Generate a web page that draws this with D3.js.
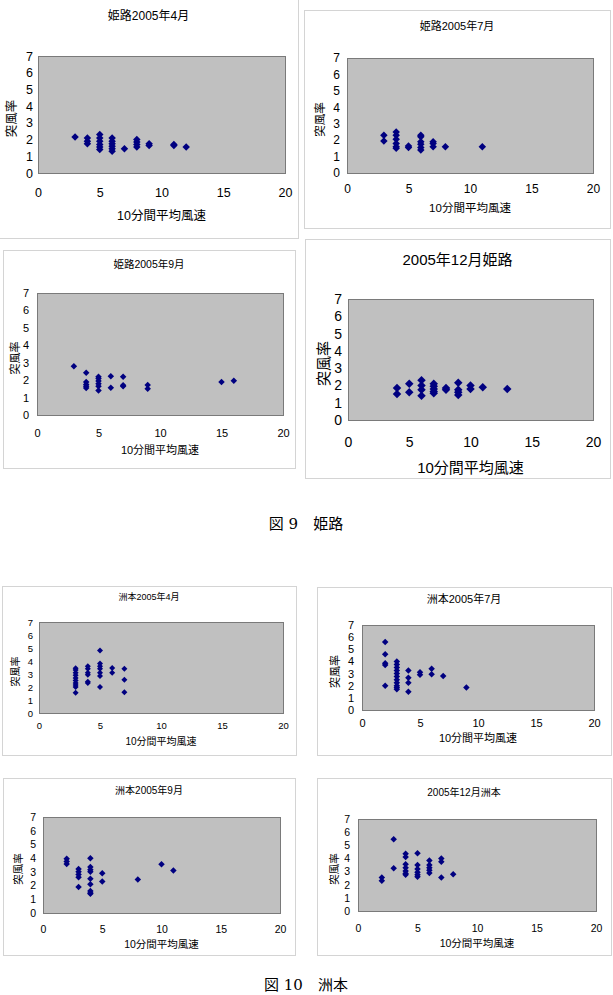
<!DOCTYPE html>
<html>
<head>
<meta charset="utf-8">
<script src="https://cdn.jsdelivr.net/npm/d3@7"></script>
<style>
  body { margin: 0; background: #fff; }
  svg { display: block; }
  text { font-family: "Liberation Sans", "Noto Sans CJK JP", sans-serif; fill: #000; }
</style>
</head>
<body>
<svg id="page" width="613" height="995"></svg>
<script>
// --- data: [10分間平均風速, 突風率] ---
const himeji04 = [[3,2.15],[4,2.1],[4,1.9],[4,1.75],[5,2.3],[5,2.1],[5,1.9],[5,1.7],[5,1.55],[5,1.4],
  [6,2.1],[6,1.9],[6,1.75],[6,1.6],[6,1.45],[6,1.3],[7,1.45],[8,2.0],[8,1.85],[8,1.7],[8,1.55],
  [9,1.75],[9,1.65],[11,1.7],[11,1.65],[12,1.55]];
const himeji07 = [[3,2.3],[3,1.95],[4,2.5],[4,2.3],[4,2.05],[4,1.8],[4,1.6],[4,1.5],[5,1.65],[5,1.55],
  [6,2.3],[6,2.2],[6,1.9],[6,1.75],[6,1.55],[6,1.4],[7,1.9],[7,1.8],[7,1.6],[8,1.6],[11,1.6]];
const himeji09 = [[3,2.8],[4,2.43],[4,1.9],[4,1.75],[4,1.65],[4,1.55],[5,2.2],[5,2.1],[5,1.95],[5,1.8],
  [5,1.65],[5,1.4],[6,2.23],[6,1.56],[7,2.2],[7,1.7],[7,1.65],[9,1.72],[9,1.5],[15,1.9],[16,1.97]];
const himeji12 = [[4,1.85],[4,1.5],[5,2.1],[5,1.6],[6,2.3],[6,2.0],[6,1.75],[6,1.4],[7,2.1],[7,1.95],
  [7,1.8],[7,1.65],[7,1.55],[8,1.85],[8,1.75],[9,2.15],[9,1.75],[9,1.6],[9,1.45],[10,2.0],[10,1.8],
  [11,1.9],[13,1.8]];
const sumoto04 = [[3,3.45],[3,3.3],[3,3.1],[3,2.9],[3,2.7],[3,2.5],[3,2.3],[3,2.15],[3,2.0],[3,1.55],
  [4,3.6],[4,3.4],[4,3.1],[4,2.95],[4,2.4],[4,2.3],[5,4.8],[5,3.8],[5,3.6],[5,3.4],[5,3.1],[5,2.85],
  [5,2.0],[6,3.46],[6,3.1],[7,3.4],[7,2.55],[7,1.6]];
const sumoto07 = [[2,5.6],[2,4.6],[2,3.85],[2,3.7],[2,2.0],[3,4.0],[3,3.75],[3,3.5],[3,3.25],[3,3.0],
  [3,2.75],[3,2.5],[3,2.25],[3,2.0],[3,1.85],[3,1.7],[4,3.25],[4,2.65],[4,2.25],[4,1.5],[5,3.1],
  [5,2.9],[6,3.4],[6,2.95],[7,2.8],[9,1.85]];
const sumoto09 = [[2,3.96],[2,3.75],[2,3.57],[3,3.2],[3,3.0],[3,2.8],[3,2.6],[3,1.9],[4,4.0],[4,3.35],
  [4,3.15],[4,3.0],[4,2.5],[4,2.1],[4,1.6],[4,1.45],[4,1.4],[5,2.9],[5,2.3],[8,2.45],[10,3.55],[11,3.1]];
const sumoto12 = [[2,2.55],[2,2.3],[3,5.45],[3,3.25],[4,4.35],[4,4.1],[4,3.55],[4,3.3],[4,3.05],[4,2.85],
  [4,2.75],[5,4.4],[5,3.5],[5,3.2],[5,2.95],[5,2.75],[5,2.6],[6,3.85],[6,3.5],[6,3.3],[6,3.1],[6,2.9],
  [7,4.0],[7,3.75],[7,2.55],[8,2.8]];

const titles = ["姫路2005年4月", "姫路2005年7月", "姫路2005年9月", "2005年12月姫路",
                "洲本2005年4月", "洲本2005年7月", "洲本2005年9月", "2005年12月洲本"];
const series = [himeji04, himeji07, himeji09, himeji12, sumoto04, sumoto07, sumoto09, sumoto12];
const xTicks = [0, 5, 10, 15, 20];
const yTicks = [0, 1, 2, 3, 4, 5, 6, 7];
const xLabel = "10分間平均風速";
const yLabel = "突風率";
const captions = ["図 9　姫路", "図 10　洲本"];

// --- layout of each panel (frame, plot box, text placement) ---
const layout = [
  {frame:[-1,-1,298,238], plot:[38,56,285,173], titleY:16, titleFs:12, tickFs:12.5, xTickY:193, xTitleY:216, axFs:12.5, yTickX:33, yTitleX:12, mark:7.5},
  {frame:[304,10,610,228], plot:[347,58,593,173], titleY:26, titleFs:11, tickFs:12, xTickY:189, xTitleY:208, axFs:11.5, yTickX:340, yTitleX:320, mark:7.5},
  {frame:[3,250,295,468], plot:[37,293,283,415], titleY:264, titleFs:10.5, tickFs:11, xTickY:433, xTitleY:450, axFs:11, yTickX:29, yTitleX:15, mark:6.5},
  {frame:[305,239,610,478], plot:[348,299,593,420], titleY:259, titleFs:15, tickFs:14, xTickY:442, xTitleY:467, axFs:15, yTickX:342, yTitleX:323, mark:8.5},
  {frame:[2,586,296,755], plot:[39,622,283,713], titleY:597, titleFs:9, tickFs:9.5, xTickY:726, xTitleY:741, axFs:10, yTickX:33, yTitleX:15, mark:6},
  {frame:[317,587,611,755], plot:[362,625,594,710], titleY:599, titleFs:11, tickFs:11, xTickY:723, xTitleY:738, axFs:11, yTickX:354, yTitleX:335, mark:6.5},
  {frame:[3,778,295,955], plot:[43,817,280,913], titleY:790, titleFs:10, tickFs:10.5, xTickY:929, xTitleY:944, axFs:10.5, yTickX:36, yTitleX:18, mark:6.5},
  {frame:[317,778,611,955], plot:[358,819,596,911], titleY:792, titleFs:10, tickFs:10.5, xTickY:928, xTitleY:943, axFs:10.5, yTickX:350, yTitleX:334, mark:6.5}
];

const svg = d3.select("#page");
const diamond = d3.symbol().type(d3.symbolSquare);

series.forEach((points, i) => {
  const L = layout[i];
  const [fx0, fy0, fx1, fy1] = L.frame;
  const [pl, pt, pr, pb] = L.plot;
  const g = svg.append("g");

  // outer chart frame
  g.append("rect")
    .attr("x", fx0 + 0.5).attr("y", fy0 + 0.5)
    .attr("width", fx1 - fx0).attr("height", fy1 - fy0)
    .attr("fill", "#fff").attr("stroke", "#d4d4d4");

  const x = d3.scaleLinear().domain([0, 20]).range([pl, pr]);
  const y = d3.scaleLinear().domain([0, 7]).range([pb, pt]);

  // plot area
  g.append("rect")
    .attr("x", pl + 0.5).attr("y", pt + 0.5)
    .attr("width", pr - pl).attr("height", pb - pt)
    .attr("fill", "#c0c0c0").attr("stroke", "#7a7a7a");

  // axes
  const xAxis = g.append("g")
    .attr("transform", `translate(0,${pb})`)
    .call(d3.axisBottom(x).tickValues(xTicks).tickFormat(d3.format("d")).tickSize(0)
      .tickPadding(L.xTickY - pb - 0.36 * L.tickFs));
  xAxis.select(".domain").remove();
  xAxis.selectAll("text").style("font-size", L.tickFs + "px").style("font-family", null).attr("fill", "#000");

  const yAxis = g.append("g")
    .attr("transform", `translate(${pl},0)`)
    .call(d3.axisLeft(y).tickValues(yTicks).tickFormat(d3.format("d")).tickSize(0)
      .tickPadding(pl - L.yTickX));
  yAxis.select(".domain").remove();
  yAxis.selectAll("text").style("font-size", L.tickFs + "px").style("font-family", null).attr("fill", "#000");

  // titles
  g.append("text")
    .attr("x", (fx0 + fx1) / 2).attr("y", L.titleY)
    .attr("text-anchor", "middle").attr("dominant-baseline", "central")
    .style("font-size", L.titleFs + "px")
    .text(titles[i]);

  g.append("text")
    .attr("x", (pl + pr) / 2).attr("y", L.xTitleY)
    .attr("text-anchor", "middle").attr("dominant-baseline", "central")
    .style("font-size", L.axFs + "px")
    .text(xLabel);

  g.append("text")
    .attr("transform", `translate(${L.yTitleX},${(pt + pb) / 2 + 4}) rotate(-90)`)
    .attr("text-anchor", "middle").attr("dominant-baseline", "central")
    .style("font-size", L.axFs + "px")
    .text(yLabel);

  // diamond markers
  const side = L.mark / Math.SQRT2;
  g.selectAll("path.pt")
    .data(points)
    .enter()
    .append("path")
    .attr("class", "pt")
    .attr("d", diamond.size(side * side))
    .attr("transform", d => `translate(${x(d[0])},${y(d[1])}) rotate(45)`)
    .attr("fill", "#000080");
});

// figure captions
svg.append("text")
  .attr("x", 306).attr("y", 524)
  .attr("text-anchor", "middle").attr("dominant-baseline", "central")
  .style("font-family", "'DejaVu Serif', 'Noto Sans CJK JP', serif")
  .style("font-size", "15px")
  .text(captions[0]);

svg.append("text")
  .attr("x", 306).attr("y", 985)
  .attr("text-anchor", "middle").attr("dominant-baseline", "central")
  .style("font-family", "'DejaVu Serif', 'Noto Sans CJK JP', serif")
  .style("font-size", "15px")
  .text(captions[1]);
</script>
</body>
</html>
